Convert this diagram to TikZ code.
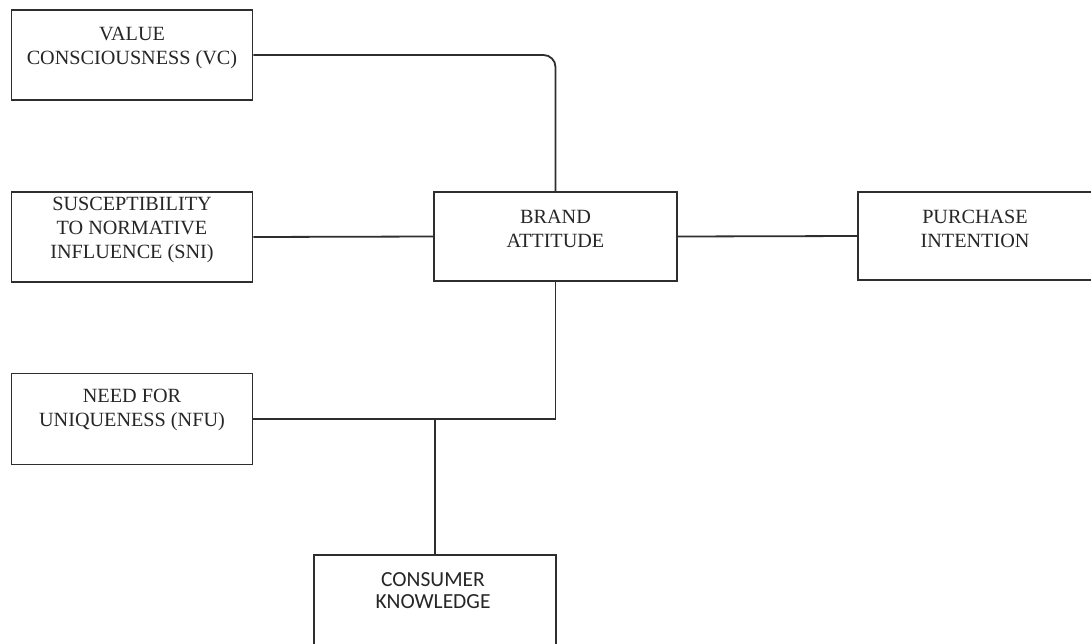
\documentclass[tikz,border=0pt]{standalone}
\usepackage{fontspec}
\setmainfont{Liberation Serif}
\newfontfamily\calib{Carlito}
\begin{document}
\begin{tikzpicture}[x=1pt,y=-1pt,
  box/.style={draw=black!82, line width=1.8pt, rectangle, inner sep=0pt, fill=white},
  lbl/.style={align=center, inner sep=0pt, text=black!85, font=\fontsize{20.2}{24}\selectfont},
  slbl/.style={align=center, inner sep=0pt, text=black!85, font=\calib\fontsize{21.5}{22}\selectfont},
  wire/.style={draw=black!82, line width=1.8pt}]
\useasboundingbox (0,0) rectangle (1091,643);
\clip (0,0) rectangle (1091,643);
\fill[white] (0,0) rectangle (1091,643);
% boxes
\node[box, minimum width=241pt, minimum height=90pt] (vc) at (132,55) {};
\node[box, minimum width=241pt, minimum height=90pt] (sni) at (132,237) {};
\node[box, minimum width=241pt, minimum height=91pt] (nfu) at (132,419) {};
\node[box, minimum width=243pt, minimum height=89pt] (ba) at (555.5,236.5) {};
\node[box, minimum width=238pt, minimum height=88pt] (pi) at (977,236) {};
\node[box, minimum width=242pt, minimum height=90pt] (ck) at (435,600) {};
% labels
\node[lbl] (vct) at (132,47.5) {VALUE\\CONSCIOUSNESS (VC)};
\node[lbl] (snit) at (132,229.5) {SUSCEPTIBILITY\\TO NORMATIVE\\INFLUENCE (SNI)};
\node[lbl] (nfut) at (132,409.5) {NEED FOR\\UNIQUENESS (NFU)};
\node[lbl] (bat) at (555.5,228.5) {BRAND\\ATTITUDE};
\node[lbl] (pit) at (975,229) {PURCHASE\\INTENTION};
\node[slbl] (ckt) at (433,590.5) {CONSUMER\\KNOWLEDGE};
% connectors
\coordinate (j) at (435,418);
\draw[wire, rounded corners=12pt] (vc.east) -| (ba.north);
\draw[wire] (sni.east) -- (ba.west);
\draw[wire] (ba.east) -- (pi.west);
\draw[wire] (ba.south) |- (nfu.east);
\draw[wire] (j) -- (ck.north);
\end{tikzpicture}
\end{document}
